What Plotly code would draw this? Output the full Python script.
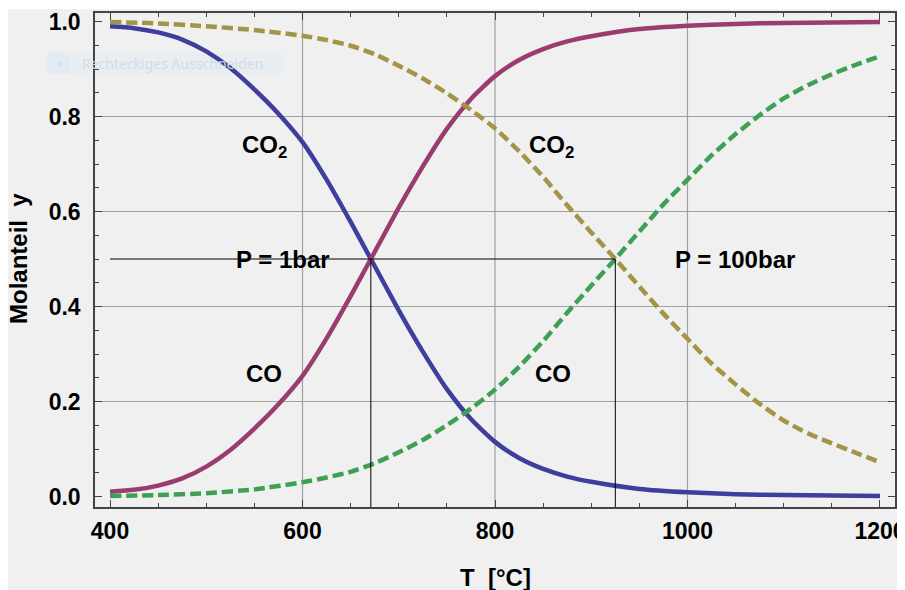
import plotly.graph_objects as go

# ---------------- data ----------------
T_1bar = [400, 425, 450, 475, 500, 525, 550, 575, 600, 625, 650, 671, 700, 725,
          750, 775, 800, 825, 850, 875, 900, 950, 1000, 1050, 1100, 1150, 1200]
CO2_1bar = [0.990, 0.986, 0.977, 0.962, 0.937, 0.902, 0.857, 0.806, 0.746, 0.667,
            0.578, 0.500, 0.392, 0.305, 0.226, 0.163, 0.115, 0.081, 0.058, 0.042,
            0.031, 0.016, 0.009, 0.005, 0.003, 0.002, 0.001]
CO_1bar = [0.010, 0.014, 0.023, 0.038, 0.063, 0.098, 0.143, 0.194, 0.254, 0.333,
           0.422, 0.500, 0.608, 0.695, 0.774, 0.837, 0.885, 0.919, 0.942, 0.958,
           0.969, 0.984, 0.991, 0.995, 0.997, 0.998, 0.999]

T_100bar = [400, 450, 500, 550, 600, 625, 650, 675, 700, 725, 750, 775, 800, 825,
            850, 875, 900, 925, 950, 975, 1000, 1025, 1050, 1075, 1100, 1125, 1150,
            1175, 1200]
CO2_100bar = [0.999, 0.996, 0.990, 0.982, 0.970, 0.961, 0.949, 0.931, 0.907, 0.880,
              0.849, 0.814, 0.775, 0.727, 0.673, 0.613, 0.556, 0.500, 0.442, 0.385,
              0.332, 0.280, 0.236, 0.195, 0.160, 0.133, 0.112, 0.092, 0.072]
CO_100bar = [0.001, 0.003, 0.007, 0.015, 0.030, 0.040, 0.052, 0.070, 0.093, 0.119,
             0.150, 0.185, 0.225, 0.273, 0.327, 0.387, 0.444, 0.500, 0.558, 0.615,
             0.667, 0.718, 0.763, 0.803, 0.838, 0.866, 0.889, 0.909, 0.927]

X_TICKS = [400, 600, 800, 1000, 1200]
Y_TICKS = [0.0, 0.2, 0.4, 0.6, 0.8, 1.0]
GRID_X = [600, 800, 1000]
GRID_Y = [0.2, 0.4, 0.6, 0.8]

T_START = 400
T_HALF_1BAR = 671
T_HALF_100BAR = 925
Y_HALF = 0.5

X_RANGE = [384.4, 1215.6]
Y_RANGE = [-0.0221, 1.0179]

# ---------------- styles ----------------
BLUE = "#3e3e9c"
MAGENTA = "#9b3c6e"
OLIVE = "#a39447"
GREEN = "#3fa054"
BG = "#f0f0f0"
FONT = "Liberation Sans"

OFF = 8                      # page body margin of the html page
W, H = 897, 582
ML, MR, MT, MB = 87, 10, 5, 83
PW, PH = W - ML - MR, H - MT - MB


def px(x):
    """page pixel x -> paper coordinate"""
    return (x - OFF - ML) / PW


def py(y):
    """page pixel y -> paper coordinate"""
    return (H - MB - (y - OFF)) / PH


fig = go.Figure()

line_w = 4.5
spl = dict(shape="spline", smoothing=0.6)
fig.add_trace(go.Scatter(x=T_1bar, y=CO2_1bar, mode="lines",
                         line=dict(color=BLUE, width=line_w, **spl)))
fig.add_trace(go.Scatter(x=T_1bar, y=CO_1bar, mode="lines",
                         line=dict(color=MAGENTA, width=line_w, **spl)))
fig.add_trace(go.Scatter(x=T_100bar, y=CO2_100bar, mode="lines",
                         line=dict(color=OLIVE, width=line_w, dash="11px,5px", **spl)))
fig.add_trace(go.Scatter(x=T_100bar, y=CO_100bar, mode="lines",
                         line=dict(color=GREEN, width=line_w, dash="11px,5px", **spl)))

# reference lines at y = 0.5
ref = dict(color="black", width=1)
fig.add_trace(go.Scatter(x=[T_START, T_HALF_100BAR], y=[Y_HALF, Y_HALF], mode="lines", line=ref))
fig.add_trace(go.Scatter(x=[T_HALF_1BAR, T_HALF_1BAR], y=[Y_HALF, Y_RANGE[0]], mode="lines", line=ref))
fig.add_trace(go.Scatter(x=[T_HALF_100BAR, T_HALF_100BAR], y=[Y_HALF, Y_RANGE[0]], mode="lines", line=ref))

shapes = []
# gray outer background
shapes.append(dict(type="rect", xref="paper", yref="paper", x0=px(8), x1=px(900),
                   y0=py(590), y1=py(9), fillcolor=BG, line=dict(width=0), layer="below"))
# grid lines
for gx in GRID_X:
    shapes.append(dict(type="line", xref="x", yref="paper", x0=gx, x1=gx, y0=0, y1=1,
                       line=dict(color="#a0a0a0", width=1.2), layer="below"))
for gy in GRID_Y:
    shapes.append(dict(type="line", xref="paper", yref="y", x0=0, x1=1, y0=gy, y1=gy,
                       line=dict(color="#a0a0a0", width=1.2), layer="below"))
# faint watermark box
shapes.append(dict(type="rect", xref="paper", yref="paper", x0=px(47), x1=px(284),
                   y0=py(74.5), y1=py(52.5), fillcolor="#e9eef3", line=dict(width=0), layer="below"))
shapes.append(dict(type="rect", xref="paper", yref="paper", x0=px(47), x1=px(70),
                   y0=py(74.5), y1=py(52.5), fillcolor="#e3ebf4", line=dict(width=0), layer="below"))
shapes.append(dict(type="circle", xref="paper", yref="paper", x0=px(57), x1=px(62),
                   y0=py(66), y1=py(61), fillcolor="#dde2e8", line=dict(width=0), layer="below"))

lab_font = dict(family=FONT, size=24, color="black")
annotations = [
    dict(x=560, y=0.737, text="<b>CO<sub>2</sub></b>"),
    dict(x=859, y=0.737, text="<b>CO<sub>2</sub></b>"),
    dict(x=580, y=0.498, text="<b>P = 1bar</b>"),
    dict(x=1049, y=0.498, text="<b>P = 100bar</b>"),
    dict(x=560, y=0.259, text="<b>CO</b>"),
    dict(x=860, y=0.259, text="<b>CO</b>"),
]
for a in annotations:
    a.update(xref="x", yref="y", showarrow=False, font=lab_font,
             xanchor="center", yanchor="middle")
annotations.append(dict(xref="paper", yref="paper", x=px(80), y=py(63.5), xanchor="left",
                        yanchor="middle", showarrow=False, text="Rechteckiges Ausschneiden",
                        font=dict(family="Noto Sans", size=14, color="#d6dce2")))
annotations.append(dict(xref="paper", yref="paper", x=px(495), y=py(577), xanchor="center",
                        yanchor="middle", showarrow=False, text="<b>T  [°C]</b>",
                        font=dict(family=FONT, size=24, color="black")))
annotations.append(dict(xref="paper", yref="paper", x=px(18), y=py(259), xanchor="center",
                        yanchor="middle", showarrow=False, text="<b>Molanteil  y</b>",
                        textangle=-90, font=dict(family=FONT, size=24, color="black")))

axis_common = dict(
    showline=True, linecolor="#444444", linewidth=1.5, mirror="ticks",
    ticks="inside", ticklen=7, tickwidth=1.2, tickcolor="#444444",
    showgrid=False, zeroline=False, automargin=False,
    tickfont=dict(family=FONT, size=23, color="black"),
)

fig.update_layout(
    width=W, height=H,
    margin=dict(l=ML, r=MR, t=MT, b=MB, autoexpand=False),
    paper_bgcolor="white", plot_bgcolor=BG,
    showlegend=False,
    shapes=shapes, annotations=annotations,
    xaxis=dict(range=X_RANGE, tickvals=X_TICKS, ticktext=[f"<b>{v}</b>" for v in X_TICKS],
               minor=dict(dtick=50, ticks="inside", ticklen=4, tickcolor="#444444", showgrid=False),
               ticklabelstandoff=3, ticklabeloverflow="allow", **axis_common),
    yaxis=dict(range=Y_RANGE, tickvals=Y_TICKS, ticktext=[f"<b>{v:.1f}</b>" for v in Y_TICKS],
               minor=dict(dtick=0.05, ticks="inside", ticklen=4, tickcolor="#444444", showgrid=False),
               ticklabelstandoff=8, **axis_common),
)

fig.write_html("out.html")
